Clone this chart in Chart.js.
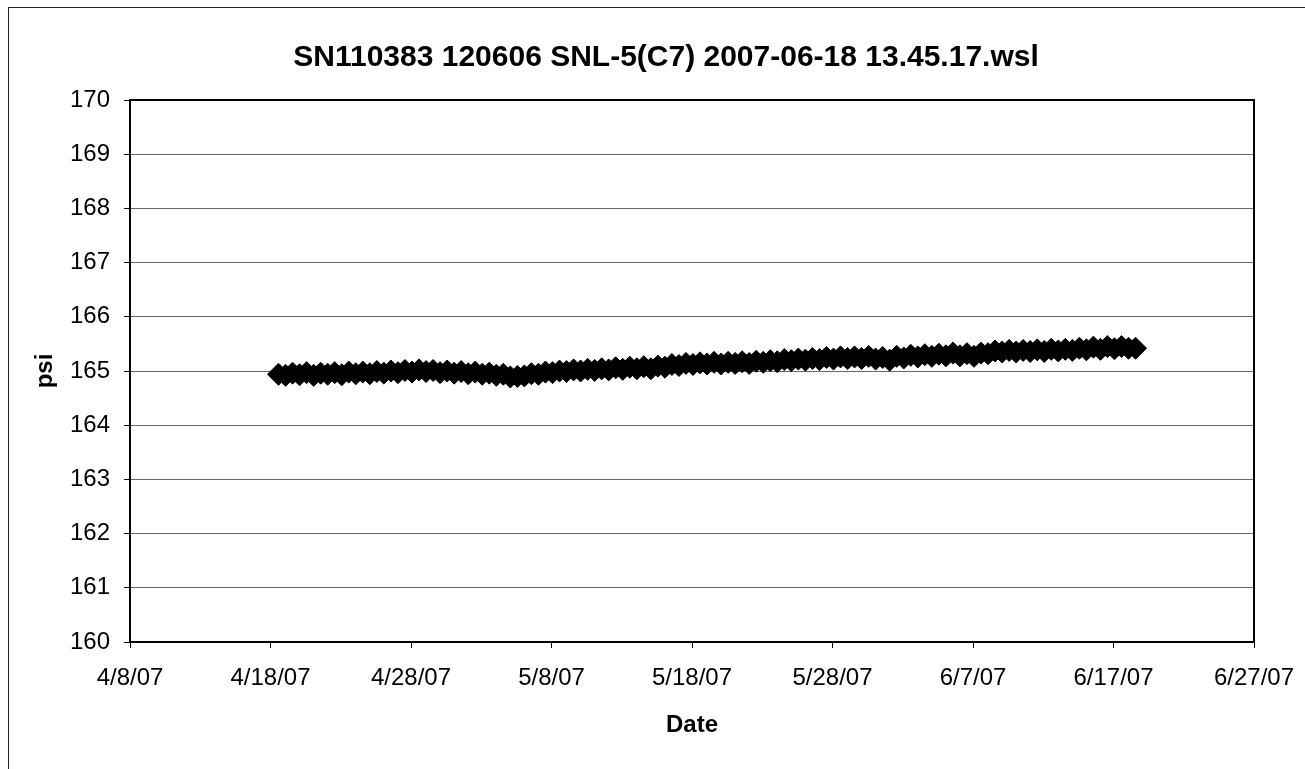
<!DOCTYPE html>
<html>
<head>
<meta charset="utf-8">
<script src="https://cdn.jsdelivr.net/npm/chart.js@4.4.1/dist/chart.umd.min.js"></script>
<style>
html, body { margin: 0; padding: 0; background: #fff; overflow: hidden; }
#frame { position: absolute; left: 8px; top: 7px; width: 1330px; height: 790px; border: 1px solid #222; }
canvas { display: block; }
</style>
</head>
<body>
<div id="frame"><canvas id="grPsi" width="1314" height="762"></canvas></div>
<script>
// x axis: days after 4/8/07, one tick every 10 days
const tickLabels = ['4/8/07', '4/18/07', '4/28/07', '5/8/07', '5/18/07', '5/28/07', '6/7/07', '6/17/07', '6/27/07'];

// logger samples, every 12 h from 4/18/07 13:45 to 6/18/07 13:45 (days after 4/8/07)
const sampleDays = [
    10.57, 11.07, 11.57, 12.07, 12.57, 13.07, 13.57, 14.07, 14.57, 15.07,
    15.57, 16.07, 16.57, 17.07, 17.57, 18.07, 18.57, 19.07, 19.57, 20.07,
    20.57, 21.07, 21.57, 22.07, 22.57, 23.07, 23.57, 24.07, 24.57, 25.07,
    25.57, 26.07, 26.57, 27.07, 27.57, 28.07, 28.57, 29.07, 29.57, 30.07,
    30.57, 31.07, 31.57, 32.07, 32.57, 33.07, 33.57, 34.07, 34.57, 35.07,
    35.57, 36.07, 36.57, 37.07, 37.57, 38.07, 38.57, 39.07, 39.57, 40.07,
    40.57, 41.07, 41.57, 42.07, 42.57, 43.07, 43.57, 44.07, 44.57, 45.07,
    45.57, 46.07, 46.57, 47.07, 47.57, 48.07, 48.57, 49.07, 49.57, 50.07,
    50.57, 51.07, 51.57, 52.07, 52.57, 53.07, 53.57, 54.07, 54.57, 55.07,
    55.57, 56.07, 56.57, 57.07, 57.57, 58.07, 58.57, 59.07, 59.57, 60.07,
    60.57, 61.07, 61.57, 62.07, 62.57, 63.07, 63.57, 64.07, 64.57, 65.07,
    65.57, 66.07, 66.57, 67.07, 67.57, 68.07, 68.57, 69.07, 69.57, 70.07,
    70.57, 71.07, 71.57
];

const psiValues = [
    164.94, 164.92, 164.96, 164.93, 164.97, 164.92, 164.96, 164.94, 164.97, 164.93,
    164.98, 164.95, 164.98, 164.95, 164.99, 164.96, 165.00, 164.97, 165.01, 164.98,
    165.02, 164.99, 165.01, 164.97, 165.00, 164.96, 164.99, 164.95, 164.98, 164.94,
    164.96, 164.92, 164.94, 164.89, 164.90, 164.91, 164.95, 164.94, 164.98, 164.97,
    165.00, 164.99, 165.02, 165.00, 165.03, 165.01, 165.04, 165.02, 165.06, 165.03,
    165.07, 165.04, 165.08, 165.04, 165.09, 165.07, 165.12, 165.10, 165.14, 165.12,
    165.15, 165.13, 165.16, 165.13, 165.16, 165.14, 165.17, 165.14, 165.18, 165.16,
    165.19, 165.17, 165.21, 165.19, 165.22, 165.20, 165.23, 165.21, 165.25, 165.22,
    165.26, 165.23, 165.26, 165.23, 165.27, 165.22, 165.25, 165.20, 165.27, 165.24,
    165.29, 165.26, 165.30, 165.27, 165.31, 165.28, 165.33, 165.28, 165.32, 165.27,
    165.33, 165.32, 165.37, 165.35, 165.38, 165.35, 165.38, 165.36, 165.39, 165.36,
    165.40, 165.37, 165.40, 165.38, 165.42, 165.39, 165.44, 165.40, 165.45, 165.41,
    165.45, 165.42, 165.42
];

const tituloGrafico = 'SN110383 120606 SNL-5(C7) 2007-06-18 13.45.17.wsl';
const fuente = "'Liberation Sans', Arial, sans-serif";

/* marco del area de trazado */
const marcoPlugin = {
    id: 'marcoPlugin',
    afterDraw(chart) {
        const { ctx, chartArea: { left, top, right, bottom } } = chart;
        ctx.save();
        ctx.strokeStyle = '#000';
        ctx.lineWidth = 2;
        ctx.strokeRect(left, top, right - left, bottom - top);
        ctx.restore();
    }
};

const ctx = document.getElementById('grPsi').getContext('2d');

new Chart(ctx, {
    type: 'scatter',
    data: {
        datasets: [{
            label: 'psi',
            data: sampleDays.map((d, i) => ({ x: d, y: psiValues[i] })),
            pointStyle: 'rectRot',
            pointRadius: 11,
            pointBackgroundColor: '#000',
            pointBorderColor: '#000',
            pointBorderWidth: 1,
            borderColor: '#000',
            borderWidth: 12,
            showLine: true,
            yAxisID: 'y'
        }]
    },
    options: {
        responsive: false,
        animation: false,
        layout: { padding: 0 },
        plugins: {
            legend: { display: false },
            tooltip: { enabled: false },
            title: {
                display: true,
                text: tituloGrafico,
                color: '#000',
                font: { family: fuente, size: 30, weight: 'bold' },
                padding: { top: 32, bottom: 24 }
            }
        },
        scales: {
            x: {
                type: 'linear',
                min: 0,
                max: 80,
                afterFit: (scale) => { scale.height = 128; },
                border: { display: false },
                grid: { drawOnChartArea: false, drawTicks: true, tickLength: 6, color: '#000', tickColor: '#000' },
                ticks: {
                    stepSize: 10,
                    padding: 16,
                    color: '#000',
                    maxRotation: 0,
                    font: { family: fuente, size: 24 },
                    callback: (v) => tickLabels[v / 10]
                },
                title: {
                    display: true,
                    text: 'Date',
                    color: '#000',
                    font: { family: fuente, size: 24, weight: 'bold' },
                    padding: { top: 0, bottom: 30 }
                }
            },
            y: {
                min: 160,
                max: 170,
                afterFit: (scale) => { scale.width = 121; },
                border: { display: false },
                grid: { color: '#6a6a6a', lineWidth: 1, tickLength: 6, tickColor: '#000' },
                ticks: {
                    stepSize: 1,
                    padding: 14,
                    color: '#000',
                    font: { family: fuente, size: 24 }
                },
                title: {
                    display: true,
                    text: 'psi',
                    color: '#000',
                    font: { family: fuente, size: 24, weight: 'bold' },
                    padding: { top: 22, bottom: 0 }
                }
            },
            // espacio vacio a la derecha del area de trazado
            derecha: {
                type: 'linear',
                position: 'right',
                min: 160,
                max: 170,
                afterFit: (scale) => { scale.width = 69; },
                border: { display: false },
                grid: { display: false },
                ticks: { display: false }
            }
        }
    },
    plugins: [marcoPlugin]
});
</script>
</body>
</html>
